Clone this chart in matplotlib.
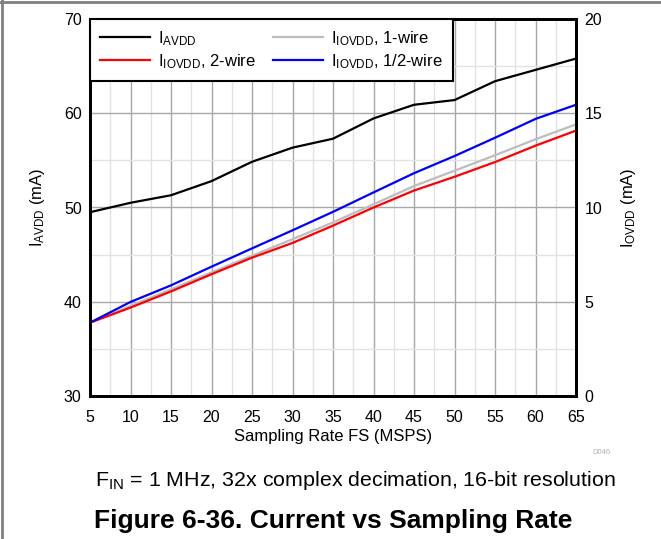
import matplotlib
matplotlib.use("Agg")
import matplotlib.pyplot as plt
from matplotlib.lines import Line2D
from matplotlib.ticker import MultipleLocator

plt.rcParams['font.family'] = ['Liberation Sans', 'DejaVu Sans']
plt.rcParams['mathtext.fontset'] = 'custom'
plt.rcParams['mathtext.rm'] = 'Liberation Sans'
plt.rcParams['mathtext.it'] = 'Liberation Sans'

# sampling rate (MSPS)
fs = [5, 10, 15, 20, 25, 30, 35, 40, 45, 50, 55, 60, 65]
# left axis: I_AVDD (mA)
i_avdd = [49.5, 50.5, 51.3, 52.8, 54.85, 56.35, 57.3, 59.45, 60.9, 61.4, 63.4, 64.6, 65.8]
# right axis: I_IOVDD (mA)
i_iovdd_1wire = [3.89, 4.78, 5.66, 6.56, 7.44, 8.32, 9.21, 10.17, 11.14, 11.95, 12.77, 13.62, 14.41]
i_iovdd_2wire = [3.89, 4.69, 5.55, 6.46, 7.34, 8.12, 9.04, 10.0, 10.9, 11.63, 12.41, 13.28, 14.08]
i_iovdd_half = [3.89, 4.99, 5.87, 6.86, 7.83, 8.79, 9.77, 10.8, 11.82, 12.73, 13.7, 14.7, 15.45]

fig = plt.figure(figsize=(6.61, 5.39), dpi=100)
ax = fig.add_axes([90 / 661, 1 - 396 / 539, 486 / 661, 377 / 539])
ax2 = ax.twinx()

ax.set_xlim(5, 65)
ax.set_ylim(30, 70)
ax2.set_ylim(0, 20)
ax.xaxis.set_major_locator(MultipleLocator(5))
ax.xaxis.set_minor_locator(MultipleLocator(2.5))
ax.yaxis.set_major_locator(MultipleLocator(10))
ax.yaxis.set_minor_locator(MultipleLocator(5))
ax2.yaxis.set_major_locator(MultipleLocator(5))

ax.grid(which='major', color='#a8a8a8', linewidth=1.0)
ax.grid(which='minor', color='#e2e2e2', linewidth=1.0)
ax.set_axisbelow(True)

for a in (ax, ax2):
    for s in a.spines.values():
        s.set_linewidth(2.0)
        s.set_color('black')
    a.tick_params(which='both', length=0, labelsize=11.5, pad=6)
ax.tick_params(axis='x', pad=10)

l1, = ax.plot(fs, i_avdd, color='black', lw=1.6, zorder=3)
l3, = ax2.plot(fs, i_iovdd_1wire, color='#bdbdbd', lw=1.6)
l2, = ax2.plot(fs, i_iovdd_2wire, color='#ff0000', lw=1.6)
l4, = ax2.plot(fs, i_iovdd_half, color='#0000ff', lw=1.6)

ax.set_xlabel('Sampling Rate FS (MSPS)', fontsize=12, labelpad=3)
ax.set_ylabel(r'I$_\mathrm{AVDD}$ (mA)', fontsize=12, labelpad=12)
ax2.set_ylabel(r'I$_\mathrm{OVDD}$ (mA)', fontsize=12, labelpad=12)

leg = ax2.legend([l1, l2, l3, l4],
                 [r'I$_\mathrm{AVDD}$', r'I$_\mathrm{IOVDD}$, 2-wire',
                  r'I$_\mathrm{IOVDD}$, 1-wire', r'I$_\mathrm{IOVDD}$, 1/2-wire'],
                 ncol=2, loc='upper left', bbox_to_anchor=(0, 1), borderaxespad=0,
                 fancybox=False, framealpha=1, edgecolor='black', fontsize=12,
                 handlelength=3.0, columnspacing=1.0, labelspacing=0.25,
                 borderpad=0.6, handletextpad=0.5)
leg.get_frame().set_linewidth(1.5)

fig.text(601 / 661, 1 - 453 / 539, 'D046', fontsize=5.5, color='#b0b0b0', ha='center', va='center')
fig.text(355 / 661, 1 - 480 / 539, r'F$_\mathrm{IN}$ = 1 MHz, 32x complex decimation, 16-bit resolution',
         fontsize=15.4, ha='center', va='center')
fig.text(333 / 661, 1 - 521 / 539, 'Figure 6-36. Current vs Sampling Rate',
         fontsize=19, fontweight='bold', ha='center', va='center')

# page frame lines
fig.add_artist(Line2D([0, 1], [1 - 1.5 / 539, 1 - 1.5 / 539], color='#808080', lw=2, transform=fig.transFigure))
fig.add_artist(Line2D([1.5 / 661, 1.5 / 661], [0, 1], color='#808080', lw=2, transform=fig.transFigure))

fig.savefig('out.png', dpi=100)
